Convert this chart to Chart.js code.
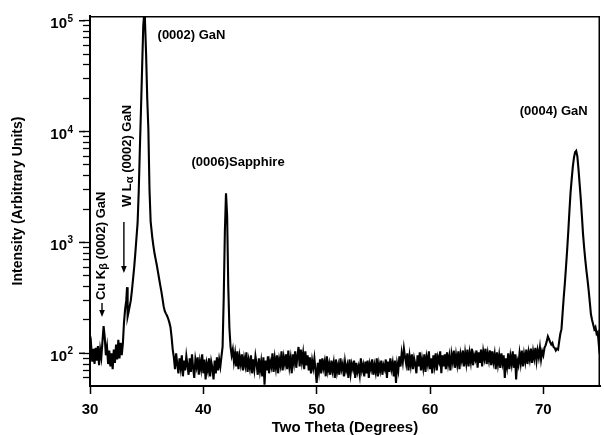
<!DOCTYPE html>
<html><head><meta charset="utf-8">
<script src="https://cdn.jsdelivr.net/npm/chart.js@4"></script>
<style>html,body{margin:0;padding:0;background:#fff}canvas{display:block}</style>
</head><body>
<canvas id="c" width="604" height="435"></canvas>
<script>
// ---- data (two theta in degrees, intensity in arbitrary units) ----
const twoTheta = [
  30.0,30.1,30.2,30.3,30.4,30.5,30.6,30.7,30.8,30.9,
  31.0,31.1,31.2,31.3,31.4,31.5,31.6,31.7,31.8,31.9,
  32.0,32.1,32.2,32.3,32.4,32.5,32.6,32.7,32.8,32.9,
  33.0,33.1,33.2,33.27,33.32,33.4,33.5,33.6,33.7,33.8,
  33.9,34.0,34.1,34.2,34.3,34.4,34.5,34.6,34.7,34.78,
  34.85,34.95,35.05,35.15,35.25,35.35,35.5,35.6,35.7,35.8,
  35.9,36.0,36.1,36.2,36.3,36.4,36.5,36.6,36.7,36.8,
  36.9,37.0,37.1,37.2,37.3,
  37.4,37.5,37.6,37.7,37.8,37.9,38.0,38.1,38.2,38.3,
  38.4,38.5,38.6,38.7,38.8,38.9,39.0,39.1,39.2,39.3,
  39.4,39.5,39.6,39.7,39.8,39.9,40.0,40.1,40.2,40.3,
  40.4,40.5,40.6,40.7,40.8,40.9,41.0,41.1,41.2,41.3,
  41.4,41.5,41.6,
  41.7,41.8,41.9,42.0,42.1,42.2,42.3,
  42.4,42.5,42.6,42.7,42.8,42.9,43.0,43.1,43.2,43.3,
  43.4,43.5,43.6,43.7,43.8,43.9,44.0,44.1,44.2,44.3,
  44.4,44.5,44.6,44.7,44.8,44.9,45.0,45.1,45.2,45.3,
  45.4,45.5,45.6,45.7,45.8,45.9,46.0,46.1,46.2,46.3,
  46.4,46.5,46.6,46.7,46.8,46.9,47.0,47.1,47.2,47.3,
  47.4,47.5,47.6,47.7,47.8,47.9,48.0,48.1,48.2,48.3,
  48.4,48.5,48.6,48.7,48.8,48.9,49.0,49.1,49.2,49.3,
  49.4,49.5,49.6,49.7,49.8,49.9,50.0,50.1,50.2,50.3,
  50.4,50.5,50.6,50.7,50.8,50.9,51.0,51.1,51.2,51.3,
  51.4,51.5,51.6,51.7,51.8,51.9,52.0,52.1,52.2,52.3,
  52.4,52.5,52.6,52.7,52.8,52.9,53.0,53.1,53.2,53.3,
  53.4,53.5,53.6,53.7,53.8,53.9,54.0,54.1,54.2,54.3,
  54.4,54.5,54.6,54.7,54.8,54.9,55.0,55.1,55.2,55.3,
  55.4,55.5,55.6,55.7,55.8,55.9,56.0,56.1,56.2,56.3,
  56.4,56.5,56.6,56.7,56.8,56.9,57.0,57.1,57.2,57.3,
  57.4,57.5,57.6,57.7,57.8,57.9,58.0,58.1,58.2,58.3,
  58.4,58.5,58.6,58.7,58.8,58.9,59.0,59.1,59.2,59.3,
  59.4,59.5,59.6,59.7,59.8,59.9,60.0,60.1,60.2,60.3,
  60.4,60.5,60.6,60.7,60.8,60.9,61.0,61.1,61.2,61.3,
  61.4,61.5,61.6,61.7,61.8,61.9,62.0,62.1,62.2,62.3,
  62.4,62.5,62.6,62.7,62.8,62.9,63.0,63.1,63.2,63.3,
  63.4,63.5,63.6,63.7,63.8,63.9,64.0,64.1,64.2,64.3,
  64.4,64.5,64.6,64.7,64.8,64.9,65.0,65.1,65.2,65.3,
  65.4,65.5,65.6,65.7,65.8,65.9,66.0,66.1,66.2,66.3,
  66.4,66.5,66.6,66.7,66.8,66.9,67.0,67.1,67.2,67.3,
  67.4,67.5,67.6,67.7,67.8,67.9,68.0,68.1,68.2,68.3,
  68.4,68.5,68.6,68.7,68.8,68.9,69.0,69.1,69.2,69.3,
  69.4,69.5,69.6,69.7,69.8,69.9,70.0,70.1,70.2,70.3,
  70.4,70.5,70.6,70.7,70.8,70.9,71.0,71.1,71.2,71.3,
  71.4,71.5,71.6,
  71.7,71.8,71.9,72.0,72.1,72.2,72.3,72.4,72.5,72.6,
  72.7,72.8,72.9,73.0,73.1,73.2,73.3,73.4,73.5,73.6,
  73.7,73.8,73.9,74.0,74.1,74.2,74.3,74.4,74.5,74.6,
  74.7,74.8,74.9,75.0
];
const intensity = [
  100,118,84,110,80,112,86,116,78,108,
  92,128,176,140,96,114,80,106,76,100,
  72,108,82,120,88,132,90,124,96,122,
  190,250,300,395,215,235,265,300,370,470,
  600,800,1100,1500,2900,7000,16000,38000,90000,115000,
  100000,50000,20000,10500,3000,1550,1100,920,790,700,
  620,540,470,410,360,310,265,240,228,218,
  205,190,172,140,108,
  92,72,100,80,66,90,74,96,62,86,
  70,94,78,64,90,68,98,74,60,88,
  76,92,64,84,72,98,66,88,58,80,
  70,90,62,84,74,58,86,66,92,70,
  88,76,94,
  115,320,1250,2780,1750,400,170,
  115,96,108,84,100,76,104,72,94,80,
  98,70,90,78,102,68,86,74,96,66,
  88,72,94,80,64,90,70,84,62,92,
  52,86,70,94,66,84,76,100,68,90,
  74,96,66,88,78,104,70,92,80,98,
  72,106,76,90,66,98,82,104,74,94,
  114,76,108,84,100,72,104,78,96,70,
  92,66,86,74,90,70,54,82,68,88,
  66,90,74,84,62,94,70,80,64,86,
  70,82,60,88,68,78,64,90,72,80,
  62,84,70,78,60,88,66,80,72,86,
  60,82,68,76,64,90,70,78,62,84,
  66,86,60,80,72,88,64,78,68,90,
  62,80,70,86,64,78,72,88,60,84,
  68,90,72,82,62,86,54,80,70,94,
  76,100,84,110,92,80,100,70,94,78,
  98,72,90,80,66,96,76,102,70,88,
  74,98,68,92,80,104,72,90,66,96,
  78,100,70,92,84,104,66,96,76,98,
  72,102,80,94,70,98,84,106,74,96,
  80,104,72,98,86,106,76,100,82,108,
  76,100,84,110,78,96,88,106,74,102,
  82,108,76,104,90,110,80,100,86,106,
  78,104,84,98,72,102,80,96,74,100,
  82,96,60,90,76,100,72,94,80,104,
  74,98,58,86,78,100,82,106,76,98,
  84,108,80,102,88,110,82,104,90,112,
  86,106,92,112,88,104,96,112,118,128,
  142,134,126,120,124,114,112,106,110,108,
  128,150,165,
  230,320,430,600,850,1250,1900,2800,3700,4800,
  5800,6500,6700,6000,4600,3400,2500,1750,1200,900,
  700,560,460,370,290,225,200,182,165,172,
  150,155,118,140
];
const xTickValues = [30, 40, 50, 60, 70];
const yTickValues = [60,70,80,90,100,200,300,400,500,600,700,800,900,
  1000,2000,3000,4000,5000,6000,7000,8000,9000,
  10000,20000,30000,40000,50000,60000,70000,80000,90000,100000];
const yLabelPowers = [2, 3, 4, 5];
const peakLabels = ['(0002) GaN', '(0006)Sapphire', '(0004) GaN'];
const lineLabels = [['Cu K', 'β', ' (0002) GaN'], ['W L', 'α', ' (0002) GaN']];

if (twoTheta.length !== intensity.length) console.error('length mismatch', twoTheta.length, intensity.length);

// ---- annotation anchors (data coordinates) ----
const peakLabelAnchors = [[35.96, 74000], [38.95, 5250], [67.92, 15100]];
const lineLabelAnchors = [[31.0, 302], [33.3, 2085]];
const arrowAnchors = [[31.06, 284, 212], [32.99, 1528, 530]];

const FONT = '"Liberation Sans", Arial, Helvetica, sans-serif';

const decor = {
  id: 'decor',
  beforeDraw(chart) {
    const c = chart.ctx;
    c.save(); c.fillStyle = '#fff'; c.fillRect(0, 0, chart.width, chart.height); c.restore();
  },
  afterDraw(chart) {
    const {ctx, chartArea: a, scales: {x, y}} = chart;
    ctx.save();
    ctx.strokeStyle = '#000';
    ctx.fillStyle = '#000';
    // top & right frame
    ctx.lineWidth = 1.5;
    ctx.beginPath();
    ctx.moveTo(a.left, a.top + 0.75);
    ctx.lineTo(a.right - 0.75, a.top + 0.75);
    ctx.lineTo(a.right - 0.75, a.bottom);
    ctx.stroke();
    // longer major ticks + labels 10^n
    ctx.lineWidth = 1.5;
    yLabelPowers.forEach(p => {
      const py = y.getPixelForValue(Math.pow(10, p));
      ctx.beginPath(); ctx.moveTo(a.left - 11, py); ctx.lineTo(a.left - 5, py); ctx.stroke();
      ctx.textAlign = 'right'; ctx.textBaseline = 'alphabetic';
      ctx.font = 'bold 15px ' + FONT;
      ctx.fillText('10', 67, py + 7.5);
      ctx.textAlign = 'left';
      ctx.font = 'bold 10px ' + FONT;
      ctx.fillText(String(p), 67.5, py + 1);
    });
    // peak labels
    ctx.font = 'bold 13px ' + FONT;
    ctx.textAlign = 'left'; ctx.textBaseline = 'middle';
    peakLabels.forEach((t, i) => {
      ctx.fillText(t, x.getPixelForValue(peakLabelAnchors[i][0]), y.getPixelForValue(peakLabelAnchors[i][1]));
    });
    // rotated labels with subscripts
    lineLabels.forEach((parts, i) => {
      const px = x.getPixelForValue(lineLabelAnchors[i][0]);
      const py = y.getPixelForValue(lineLabelAnchors[i][1]);
      ctx.save();
      ctx.translate(px, py);
      ctx.rotate(-Math.PI / 2);
      ctx.textAlign = 'left'; ctx.textBaseline = 'middle';
      let cx = 0;
      ctx.font = 'bold 13px ' + FONT;
      ctx.fillText(parts[0], cx, 0); cx += ctx.measureText(parts[0]).width;
      ctx.font = 'bold 11px ' + FONT;
      ctx.fillText(parts[1], cx, 2.5); cx += ctx.measureText(parts[1]).width;
      ctx.font = 'bold 13px ' + FONT;
      ctx.fillText(parts[2], cx, 0);
      ctx.restore();
    });
    // arrows
    ctx.lineWidth = 1.4;
    arrowAnchors.forEach(([ax, yTail, yTip]) => {
      const px = x.getPixelForValue(ax);
      const p0 = y.getPixelForValue(yTail);
      const p1 = y.getPixelForValue(yTip);
      ctx.beginPath(); ctx.moveTo(px, p0); ctx.lineTo(px, p1 - 5); ctx.stroke();
      ctx.beginPath(); ctx.moveTo(px - 2.8, p1 - 7); ctx.lineTo(px + 2.8, p1 - 7); ctx.lineTo(px, p1); ctx.closePath(); ctx.fill();
    });
    ctx.restore();
  }
};

new Chart(document.getElementById('c'), {
  type: 'line',
  data: {
    datasets: [{
      data: twoTheta.map((t, i) => ({x: t, y: intensity[i]})),
      borderColor: '#000',
      borderWidth: 2.1,
      pointRadius: 0,
      fill: false,
      tension: 0
    }]
  },
  options: {
    responsive: false,
    animation: false,
    devicePixelRatio: 1,
    layout: {padding: {top: 16, right: 4, left: 0, bottom: 0}},
    plugins: {legend: {display: false}, tooltip: {enabled: false}},
    scales: {
      x: {
        type: 'linear',
        min: 30, max: 75,
        afterBuildTicks: s => { s.ticks = xTickValues.map(v => ({value: v})); },
        afterFit: s => { s.height = 49; },
        grid: {drawOnChartArea: false, drawTicks: true, tickLength: 8, tickColor: '#000', tickWidth: 1.5},
        border: {display: true, color: '#000', width: 2},
        ticks: {color: '#000', padding: 7, maxRotation: 0, font: {family: FONT, size: 15, weight: 'bold'}},
        title: {display: true, text: 'Two Theta (Degrees)', color: '#000',
          font: {family: FONT, size: 15, weight: 'bold', lineHeight: 1}, padding: {top: 0, bottom: 0}}
      },
      y: {
        type: 'logarithmic',
        min: 50.7, max: 110300,
        afterBuildTicks: s => { s.ticks = yTickValues.map(v => ({value: v})); },
        afterFit: s => { s.width = 90; },
        grid: {drawOnChartArea: false, drawTicks: true, tickLength: 7, tickColor: '#000', tickWidth: 1.3},
        border: {display: true, color: '#000', width: 2},
        ticks: {callback: () => '', autoSkip: false},
        title: {display: true, text: 'Intensity (Arbitrary Units)', color: '#000',
          font: {family: FONT, size: 14, weight: 'bold', lineHeight: 1}, padding: {top: 11.5, bottom: 0}}
      }
    }
  },
  plugins: [decor]
});
</script>
</body></html>
